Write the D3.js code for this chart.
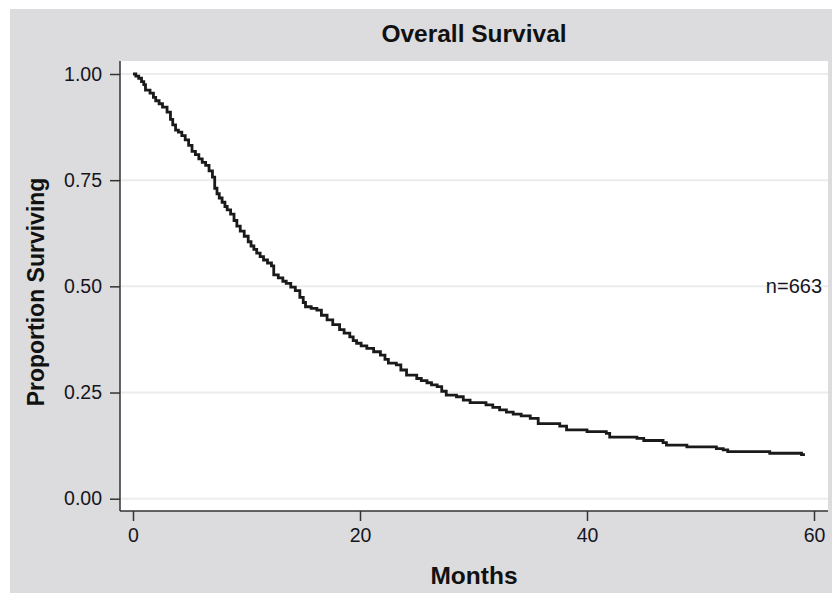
<!DOCTYPE html>
<html>
<head>
<meta charset="utf-8">
<script src="https://cdn.jsdelivr.net/npm/d3@7"></script>
<style>
  html, body { margin: 0; padding: 0; background: #fff; }
  text { font-family: "Liberation Sans", Arial, sans-serif; }
</style>
</head>
<body>
<svg id="chart" width="832" height="593"></svg>
<script>
'use strict';

// Kaplan-Meier estimate (months, proportion surviving)
var months = [0, 0.25, 0.5, 0.75, 0.95, 1.1, 1.5, 1.8, 2.0, 2.3, 2.6, 3.0, 3.3,
  3.5, 3.75, 4.0, 4.3, 4.6, 4.9, 5.2, 5.5, 5.8, 6.1, 6.4, 6.7, 7.0, 7.2, 7.4,
  7.6, 7.85, 8.1, 8.3, 8.6, 8.9, 9.15, 9.45, 9.8, 10.15, 10.4, 10.65, 10.9,
  11.2, 11.5, 11.85, 12.2, 12.4, 12.8, 13.2, 13.5, 13.9, 14.3, 14.7, 15.0, 15.2,
  15.7, 16.2, 16.6, 17.1, 17.6, 18.2, 18.6, 19.1, 19.4, 19.7, 20.1, 20.6, 21.2,
  21.8, 22.2, 22.5, 23.2, 23.6, 24.1, 25.0, 25.4, 25.9, 26.3, 26.8, 27.2, 27.6,
  28.5, 29.1, 29.7, 31.1, 31.7, 32.3, 32.9, 33.5, 34.2, 35.0, 35.7, 37.6, 38.2,
  40.0, 41.7, 42.0, 44.4, 45.0, 46.7, 47.0, 48.8, 51.4, 52.0, 52.4, 56.1, 58.9,
  59.2];
var surviving = [1.0, 0.995, 0.99, 0.982, 0.975, 0.962, 0.955, 0.945, 0.937,
  0.93, 0.922, 0.91, 0.893, 0.88, 0.868, 0.863, 0.855, 0.845, 0.832, 0.818,
  0.81, 0.8, 0.792, 0.785, 0.772, 0.757, 0.731, 0.718, 0.708, 0.698, 0.688,
  0.68, 0.67, 0.655, 0.642, 0.63, 0.618, 0.605, 0.595, 0.587, 0.578, 0.57,
  0.562, 0.555, 0.548, 0.527, 0.52, 0.512, 0.507, 0.498, 0.49, 0.474, 0.462,
  0.452, 0.448, 0.444, 0.432, 0.421, 0.41, 0.398, 0.39, 0.381, 0.372, 0.366,
  0.36, 0.354, 0.346, 0.338, 0.328, 0.319, 0.315, 0.303, 0.291, 0.283, 0.278,
  0.273, 0.268, 0.264, 0.253, 0.244, 0.24, 0.232, 0.226, 0.221, 0.215, 0.209,
  0.204, 0.199, 0.195, 0.189, 0.177, 0.171, 0.162, 0.158, 0.154, 0.145, 0.142,
  0.137, 0.132, 0.126, 0.122, 0.118, 0.115, 0.111, 0.107, 0.104, 0.104];

var yTicks = [0, 0.25, 0.5, 0.75, 1];
var xTicks = [0, 20, 40, 60];
var sampleSize = 'n=663';

var $svg = d3.select('#chart');

// gray graph region and white plot region
$svg.append('rect')
  .attr('x', 10).attr('y', 9).attr('width', 822).attr('height', 584)
  .attr('fill', '#dcdcde');

var plot = { left: 120, top: 61, right: 828, bottom: 511 };

$svg.append('rect')
  .attr('x', plot.left).attr('y', plot.top)
  .attr('width', plot.right - plot.left).attr('height', plot.bottom - plot.top)
  .attr('fill', '#fff');

var xScale = d3.scaleLinear().domain([0, 60]).range([133, 814]);
var yScale = d3.scaleLinear().domain([0, 1]).range([498.7, 74]);

// gridlines
$svg.selectAll('line.grid')
  .data(yTicks)
  .enter()
  .append('line')
  .attr('class', 'grid')
  .attr('x1', plot.left)
  .attr('x2', plot.right)
  .attr('y1', function(d) { return yScale(d); })
  .attr('y2', function(d) { return yScale(d); })
  .attr('stroke', '#ececec')
  .attr('stroke-width', 2);

// axes
var yAxis = d3.axisLeft(yScale)
  .tickValues(yTicks)
  .tickSize(10)
  .tickPadding(8)
  .tickFormat(d3.format('.2f'));

var xAxis = d3.axisBottom(xScale)
  .tickValues(xTicks)
  .tickSize(10)
  .tickPadding(7);

var gy = $svg.append('g')
  .attr('transform', 'translate(' + plot.left + ',0)')
  .call(yAxis);
gy.select('.domain').remove();
gy.append('line')
  .attr('x1', 0).attr('x2', 0)
  .attr('y1', plot.top).attr('y2', plot.bottom)
  .attr('stroke', '#333').attr('stroke-width', 1.5);

var gx = $svg.append('g')
  .attr('transform', 'translate(0,' + plot.bottom + ')')
  .call(xAxis);
gx.select('.domain').remove();
gx.append('line')
  .attr('x1', plot.left).attr('x2', plot.right)
  .attr('y1', 0).attr('y2', 0)
  .attr('stroke', '#333').attr('stroke-width', 1.5);

$svg.selectAll('.tick line')
  .attr('stroke', '#333')
  .attr('stroke-width', 1.5);
$svg.selectAll('.tick text')
  .attr('fill', '#151520')
  .style('font-family', '"Liberation Sans", Arial, sans-serif')
  .style('font-size', '19.5px');

// survival curve
var points = months.map(function(m, i) {
  return { t: m, s: surviving[i] };
});

var line = d3.line()
  .x(function(d) { return xScale(d.t); })
  .y(function(d) { return yScale(d.s); })
  .curve(d3.curveStepAfter);

$svg.append('path')
  .datum(points)
  .attr('d', line)
  .attr('fill', 'none')
  .attr('stroke', '#1a1a1a')
  .attr('stroke-width', 2.8);

// texts
$svg.append('text')
  .attr('x', 474).attr('y', 42)
  .attr('text-anchor', 'middle')
  .style('font-size', '24.5px')
  .style('font-weight', 'bold')
  .attr('fill', '#111')
  .text('Overall Survival');

$svg.append('text')
  .attr('x', 474).attr('y', 584)
  .attr('text-anchor', 'middle')
  .style('font-size', '24.5px')
  .style('font-weight', 'bold')
  .attr('fill', '#111')
  .text('Months');

$svg.append('text')
  .attr('transform', 'translate(44,292) rotate(-90)')
  .attr('text-anchor', 'middle')
  .style('font-size', '23px')
  .style('font-weight', 'bold')
  .attr('fill', '#111')
  .text('Proportion Surviving');

$svg.append('text')
  .attr('x', 822).attr('y', yScale(0.5))
  .attr('dy', '0.35em')
  .attr('text-anchor', 'end')
  .style('font-size', '20px')
  .attr('fill', '#151520')
  .text(sampleSize);
</script>
</body>
</html>
